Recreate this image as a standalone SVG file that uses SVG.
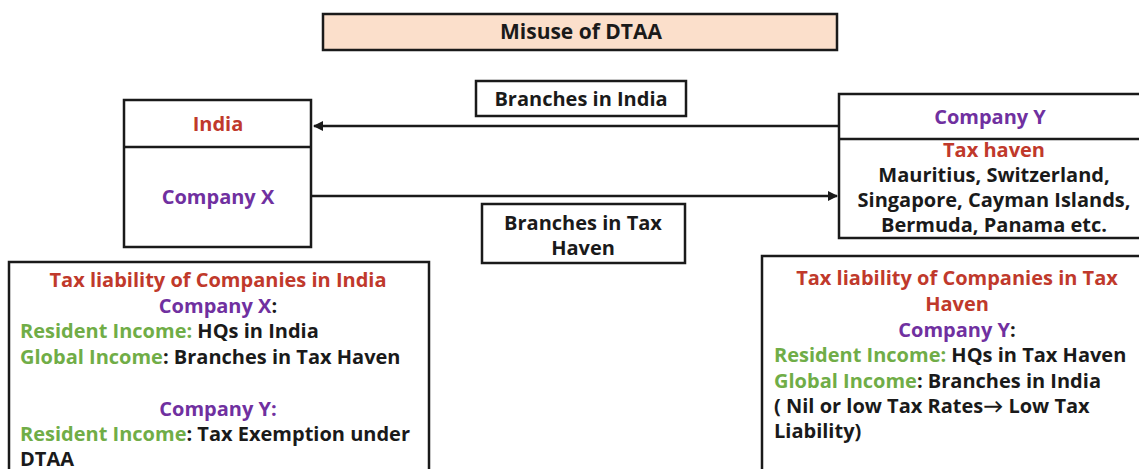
<svg xmlns="http://www.w3.org/2000/svg" width="1139" height="469" viewBox="0 0 1139 469">
<style>
text{font-family:"Open Sans",Lato,"Liberation Sans",sans-serif;font-weight:bold;font-size:20px;fill:#1a1a1a}
.c{text-anchor:middle}
.r{fill:#c0392b}
.p{fill:#7030a0}
.g{fill:#70ad47}
.box{fill:#fff;stroke:#1a1a1a;stroke-width:2.5}
.ln{stroke:#1a1a1a;stroke-width:2.5;fill:none}
</style>
<defs>
<marker id="ah" viewBox="0 0 10 10" refX="9" refY="5" markerWidth="4" markerHeight="4" orient="auto-start-reverse" markerUnits="strokeWidth">
<path d="M0,0L10,5L0,10z" fill="#1a1a1a"/>
</marker>
</defs>
<rect width="1139" height="469" fill="#fff"/>
<g id="title">
<rect x="323" y="14" width="514" height="36" fill="#fbdfcb" stroke="#1a1a1a" stroke-width="2.5"/>
<text class="c" x="581" y="39" style="font-size:21px">Misuse of DTAA</text>
</g>
<g id="connectors">
<line class="ln" x1="839" y1="126" x2="314" y2="126" marker-end="url(#ah)"/>
<line class="ln" x1="312" y1="196" x2="837" y2="196" marker-end="url(#ah)"/>
</g>
<g id="label-branches-india">
<rect class="box" x="476" y="81" width="210" height="35"/>
<text class="c" x="581" y="106">Branches in India</text>
</g>
<g id="label-branches-haven">
<rect class="box" x="482" y="204" width="203" height="59"/>
<text class="c" x="583" y="230">Branches in Tax</text>
<text class="c" x="583" y="255">Haven</text>
</g>
<g id="india">
<rect class="box" x="124" y="100" width="187" height="147"/>
<line class="ln" x1="124" y1="147" x2="311" y2="147"/>
<text class="c r" x="218" y="131">India</text>
<text class="c p" x="218" y="204">Company X</text>
</g>
<g id="company-y">
<rect class="box" x="839" y="94" width="310" height="144"/>
<line class="ln" x1="839" y1="139" x2="1149" y2="139"/>
<text class="c p" x="990" y="124">Company Y</text>
<text class="c r" x="994" y="157">Tax haven</text>
<text class="c" x="994" y="182">Mauritius, Switzerland,</text>
<text class="c" x="994" y="207">Singapore, Cayman Islands,</text>
<text class="c" x="994" y="232">Bermuda, Panama etc.</text>
</g>
<g id="india-tax">
<rect class="box" x="9" y="262" width="420" height="220"/>
<text class="c r" x="218" y="287">Tax liability of Companies in India</text>
<text class="c" x="218" y="313"><tspan class="p">Company X</tspan>:</text>
<text x="20" y="338"><tspan class="g">Resident Income:</tspan> HQs in India</text>
<text x="20" y="364"><tspan class="g">Global Income</tspan>: Branches in Tax Haven</text>
<text class="c" x="218" y="416"><tspan class="p">Company Y:</tspan></text>
<text x="20" y="441"><tspan class="g">Resident Income</tspan>: Tax Exemption under</text>
<text x="20" y="466">DTAA</text>
</g>
<g id="haven-tax">
<rect class="box" x="762" y="256" width="390" height="230"/>
<text class="c r" x="957" y="285">Tax liability of Companies in Tax</text>
<text class="c r" x="957" y="311">Haven</text>
<text class="c" x="957" y="337"><tspan class="p">Company Y</tspan>:</text>
<text x="774" y="362"><tspan class="g">Resident Income:</tspan> HQs in Tax Haven</text>
<text x="774" y="388"><tspan class="g">Global Income</tspan>: Branches in India</text>
<text x="774" y="413">( Nil or low Tax Rates→ Low Tax</text>
<text x="774" y="438">Liability)</text>
</g>
</svg>
